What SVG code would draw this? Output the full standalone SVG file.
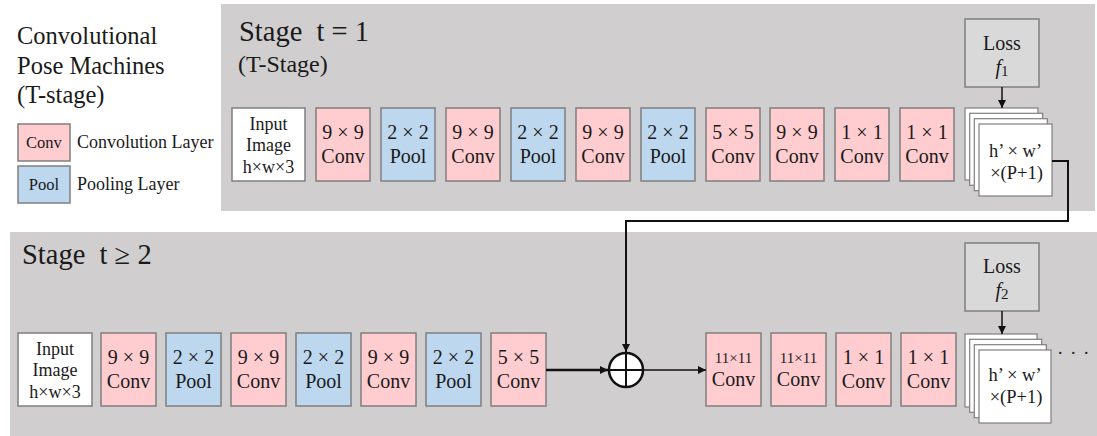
<svg xmlns="http://www.w3.org/2000/svg" width="1097" height="436" viewBox="0 0 1097 436">
<style>
text{font-family:"Liberation Serif","Times New Roman",serif;fill:#1a1a1a;}
.panel{fill:#d0cece;}
.conv{fill:#ffccd0;stroke:#7f7f7f;stroke-width:1.5;}
.pool{fill:#bdd7ee;stroke:#7f7f7f;stroke-width:1.5;}
.inp{fill:#ffffff;stroke:#7f7f7f;stroke-width:1.5;}
.loss{fill:#d9d9d9;stroke:#7f7f7f;stroke-width:1.5;}
.sheet{fill:#ffffff;stroke:#7f7f7f;stroke-width:1.2;}
.bt{font-size:20px;text-anchor:middle;}
.it{font-size:18px;text-anchor:middle;}
.sm{font-size:16.5px;text-anchor:middle;}
.title{font-size:28.5px;white-space:pre;}
.leg{font-size:24.5px;}
.legs{font-size:18px;}
.wire{fill:none;stroke:#111;stroke-width:2;}
.thin{fill:none;stroke:#111;stroke-width:1.5;}
</style>
<defs>
<marker id="ah" viewBox="0 0 10 10" refX="10" refY="5" markerWidth="8" markerHeight="8" markerUnits="userSpaceOnUse" orient="auto">
<path d="M0,0 L10,5 L0,10 z" fill="#111"/>
</marker>
</defs>

<!-- panels -->
<rect class="panel" x="221" y="4" width="874" height="207"/>
<rect class="panel" x="10" y="232" width="1087" height="204"/>

<!-- legend -->
<g id="legend">
<text class="leg" x="17" y="44">Convolutional</text>
<text class="leg" x="17" y="74">Pose Machines</text>
<text class="leg" x="17" y="103">(T-stage)</text>
<rect class="conv" x="18" y="124" width="52" height="37"/>
<text class="sm" x="44" y="148">Conv</text>
<text class="legs" x="77" y="148">Convolution Layer</text>
<rect class="pool" x="18" y="166" width="52" height="37"/>
<text class="sm" x="44" y="190">Pool</text>
<text class="legs" x="77" y="190">Pooling Layer</text>
</g>

<text class="title" x="239" y="41">Stage  t = 1</text>
<text x="238" y="72" style="font-size:24px">(T-Stage)</text>
<text class="title" x="22" y="264">Stage  t ≥ 2</text>

<!-- stage 1 -->
<g id="s1-input"><rect class="inp" x="232" y="108" width="73" height="73"/>
<text class="it" x="268.5" y="130">Input</text><text class="it" x="268.5" y="151">Image</text><text class="it" x="268.5" y="173">h×w×3</text></g>
<g id="s1-c1"><rect class="conv" x="316" y="108" width="54" height="73"/><text class="bt" x="343" y="139">9 × 9</text><text class="bt" x="343" y="163">Conv</text></g>
<g id="s1-p1"><rect class="pool" x="381" y="108" width="54" height="73"/><text class="bt" x="408" y="139">2 × 2</text><text class="bt" x="408" y="163">Pool</text></g>
<g id="s1-c2"><rect class="conv" x="446" y="108" width="54" height="73"/><text class="bt" x="473" y="139">9 × 9</text><text class="bt" x="473" y="163">Conv</text></g>
<g id="s1-p2"><rect class="pool" x="511" y="108" width="54" height="73"/><text class="bt" x="538" y="139">2 × 2</text><text class="bt" x="538" y="163">Pool</text></g>
<g id="s1-c3"><rect class="conv" x="576" y="108" width="54" height="73"/><text class="bt" x="603" y="139">9 × 9</text><text class="bt" x="603" y="163">Conv</text></g>
<g id="s1-p3"><rect class="pool" x="641" y="108" width="54" height="73"/><text class="bt" x="668" y="139">2 × 2</text><text class="bt" x="668" y="163">Pool</text></g>
<g id="s1-c4"><rect class="conv" x="706" y="108" width="54" height="73"/><text class="bt" x="733" y="139">5 × 5</text><text class="bt" x="733" y="163">Conv</text></g>
<g id="s1-c5"><rect class="conv" x="770" y="108" width="54" height="73"/><text class="bt" x="797" y="139">9 × 9</text><text class="bt" x="797" y="163">Conv</text></g>
<g id="s1-c6"><rect class="conv" x="835" y="108" width="54" height="73"/><text class="bt" x="862" y="139">1 × 1</text><text class="bt" x="862" y="163">Conv</text></g>
<g id="s1-c7"><rect class="conv" x="900" y="108" width="54" height="73"/><text class="bt" x="927" y="139">1 × 1</text><text class="bt" x="927" y="163">Conv</text></g>
<g id="s1-loss"><rect class="loss" x="965" y="19" width="74" height="68"/>
<text class="bt" x="1002" y="50">Loss</text>
<text class="bt" x="1002" y="74"><tspan font-style="italic">f</tspan><tspan font-size="15" dy="2">1</tspan></text></g>
<g id="s1-out">
<rect class="sheet" x="965" y="108" width="73" height="72"/>
<rect class="sheet" x="969.7" y="113.3" width="73" height="72"/>
<rect class="sheet" x="974.3" y="118.7" width="73" height="72"/>
<rect class="sheet" x="979" y="124" width="73" height="72"/>
<text class="bt" x="1015.5" y="157" style="font-size:18.5px">h’ × w’</text>
<text class="bt" x="1016.5" y="179" style="font-size:18.5px">×(P+1)</text>
</g>

<!-- stage 2 -->
<g id="s2-input"><rect class="inp" x="18" y="333" width="74" height="73"/>
<text class="it" x="55" y="355">Input</text><text class="it" x="55" y="376">Image</text><text class="it" x="55" y="398">h×w×3</text></g>
<g id="s2-c1"><rect class="conv" x="101" y="333" width="55" height="73"/><text class="bt" x="128.5" y="364">9 × 9</text><text class="bt" x="128.5" y="388">Conv</text></g>
<g id="s2-p1"><rect class="pool" x="166" y="333" width="55" height="73"/><text class="bt" x="193.5" y="364">2 × 2</text><text class="bt" x="193.5" y="388">Pool</text></g>
<g id="s2-c2"><rect class="conv" x="231" y="333" width="55" height="73"/><text class="bt" x="258.5" y="364">9 × 9</text><text class="bt" x="258.5" y="388">Conv</text></g>
<g id="s2-p2"><rect class="pool" x="296" y="333" width="55" height="73"/><text class="bt" x="323.5" y="364">2 × 2</text><text class="bt" x="323.5" y="388">Pool</text></g>
<g id="s2-c3"><rect class="conv" x="361" y="333" width="55" height="73"/><text class="bt" x="388.5" y="364">9 × 9</text><text class="bt" x="388.5" y="388">Conv</text></g>
<g id="s2-p3"><rect class="pool" x="426" y="333" width="55" height="73"/><text class="bt" x="453.5" y="364">2 × 2</text><text class="bt" x="453.5" y="388">Pool</text></g>
<g id="s2-c4"><rect class="conv" x="491" y="333" width="55" height="73"/><text class="bt" x="518.5" y="364">5 × 5</text><text class="bt" x="518.5" y="388">Conv</text></g>
<g id="s2-sum"><circle cx="626" cy="370" r="17" fill="#fff" stroke="#111" stroke-width="2.5"/>
<line x1="609" y1="370" x2="643" y2="370" stroke="#111" stroke-width="2"/>
<line x1="626" y1="353" x2="626" y2="387" stroke="#111" stroke-width="2"/></g>
<g id="s2-c5"><rect class="conv" x="706" y="333" width="55" height="73"/><text class="bt" x="733.5" y="363" style="font-size:15px">11×11</text><text class="bt" x="733.5" y="386">Conv</text></g>
<g id="s2-c6"><rect class="conv" x="771" y="333" width="55" height="73"/><text class="bt" x="798.5" y="363" style="font-size:15px">11×11</text><text class="bt" x="798.5" y="386">Conv</text></g>
<g id="s2-c7"><rect class="conv" x="836" y="333" width="55" height="73"/><text class="bt" x="863.5" y="364">1 × 1</text><text class="bt" x="863.5" y="388">Conv</text></g>
<g id="s2-c8"><rect class="conv" x="901" y="333" width="55" height="73"/><text class="bt" x="928.5" y="364">1 × 1</text><text class="bt" x="928.5" y="388">Conv</text></g>
<g id="s2-loss"><rect class="loss" x="965" y="243" width="74" height="68"/>
<text class="bt" x="1002" y="273">Loss</text>
<text class="bt" x="1002" y="297"><tspan font-style="italic">f</tspan><tspan font-size="15" dy="2">2</tspan></text></g>
<g id="s2-out">
<rect class="sheet" x="965" y="334" width="72" height="73"/>
<rect class="sheet" x="969.7" y="339.3" width="72" height="73"/>
<rect class="sheet" x="974.3" y="344.7" width="72" height="73"/>
<rect class="sheet" x="979" y="350" width="72" height="73"/>
<text class="bt" x="1015" y="381" style="font-size:18.5px">h’ × w’</text>
<text class="bt" x="1016" y="403" style="font-size:18.5px">×(P+1)</text>
</g>
<text x="1058" y="354" style="font-size:18px;letter-spacing:2px">. . .</text>

<!-- connectors -->
<g id="connectors">
<line class="thin" x1="1002" y1="87" x2="1002" y2="108" marker-end="url(#ah)"/>
<line class="thin" x1="1002" y1="311" x2="1002" y2="334" marker-end="url(#ah)"/>
<path class="wire" d="M1052,161 H1068 V221 H626 V352" marker-end="url(#ah)"/>
<line class="wire" x1="546" y1="370" x2="608" y2="370" marker-end="url(#ah)" style="stroke-width:2.5"/>
<line class="thin" x1="643" y1="370" x2="706" y2="370" marker-end="url(#ah)"/>
</g>
</svg>
